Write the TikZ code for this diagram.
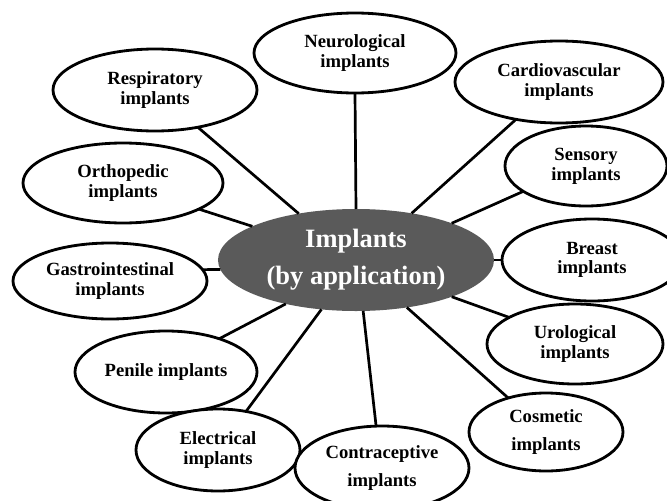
\documentclass[tikz,border=0pt]{standalone}
\usepackage{fontspec}
\setmainfont{Liberation Serif}
\usetikzlibrary{shapes.geometric}
\begin{document}
\begin{tikzpicture}[x=0.03cm,y=-0.03cm,
  leaf/.style={ellipse,draw,line width=2.4pt,fill=white,inner sep=0pt,outer sep=0pt,align=center,
    font=\bfseries\fontsize{15.9}{16.8}\selectfont},
  wideleaf/.style={leaf,font=\bfseries\fontsize{15.9}{23.5}\selectfont},
  hub/.style={ellipse,fill=hubgray,inner sep=0pt,outer sep=0pt,align=center,text=white,
    font=\bfseries\fontsize{22.6}{31.5}\selectfont,minimum width=8.28cm,minimum height=3.06cm},
  link/.style={line width=2.3pt}]
\definecolor{hubgray}{RGB}{90,90,90}
\useasboundingbox (0,0) rectangle (667,500);
\clip (0,0) rectangle (667,500);

\node[hub] (c) at (356,260) {Implants\\(by application)};

\node[leaf,minimum width=6.06cm,minimum height=2.4cm] (neu) at (355,53) {Neurological\\implants};
\node[leaf,minimum width=6.12cm,minimum height=2.46cm] (res) at (155,90) {Respiratory\\implants};
\node[leaf,minimum width=6.0cm,minimum height=2.4cm] (ort) at (123,183) {Orthopedic\\implants};
\node[leaf,minimum width=5.82cm,minimum height=2.28cm] (gas) at (110,281) {Gastrointestinal\\implants};
\node[leaf,minimum width=5.46cm,minimum height=2.46cm] (pen) at (166,372) {Penile implants};
\node[leaf,minimum width=4.92cm,minimum height=2.46cm] (ele) at (218,450) {Electrical\\implants};
\node[wideleaf,minimum width=5.22cm,minimum height=2.52cm] (con) at (382,468) {Contraceptive\\implants};
\node[wideleaf,minimum width=4.62cm,minimum height=2.34cm] (cos) at (546,432) {Cosmetic\\implants};
\node[leaf,minimum width=5.28cm,minimum height=2.4cm] (uro) at (575,344) {Urological\\implants};
\node[leaf,minimum width=5.4cm,minimum height=2.46cm] (bre) at (592,260) {Breast\\implants};
\node[leaf,minimum width=4.86cm,minimum height=2.4cm] (sen) at (586,166) {Sensory\\implants};
\node[leaf,minimum width=6.24cm,minimum height=2.46cm] (car) at (559,82) {Cardiovascular\\implants};

\draw[link] (c.90) -- (neu.-90);
\draw[link] (c.141.3) -- (res.-41.6);
\draw[link] (c.162) -- (ort.-19.3);
\draw[link] (c.-176.3) -- (gas.7);
\draw[link] (c.-148.9) -- (pen.32);
\draw[link] (c.-125.6) -- (ele.54.3);
\draw[link] (c.-82.7) -- (con.98);
\draw[link] (c.-43.4) -- (cos.138);
\draw[link] (c.-21.5) -- (uro.158);
\draw[link] (c.0) -- (bre.180);
\draw[link] (c.21.6) -- (sen.-158.2);
\draw[link] (c.40.6) -- (car.-139.7);
\end{tikzpicture}
\end{document}
